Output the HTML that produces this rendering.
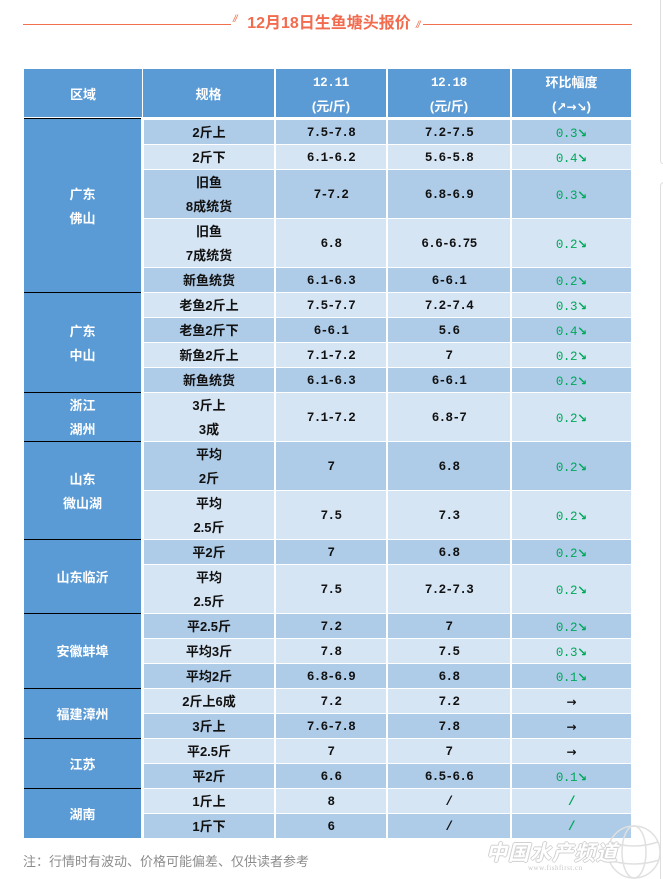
<!DOCTYPE html>
<html><head><meta charset="utf-8">
<style>
*{margin:0;padding:0;box-sizing:border-box}
html,body{width:663px;height:879px;background:#fff;overflow:hidden}
body{position:relative;font-family:"Liberation Sans","Noto Sans CJK SC",sans-serif}
.abs{position:absolute}
.tl{position:absolute;height:1.5px;background:#f07050;top:23.5px}
.title{position:absolute;left:240px;width:178px;top:13px;height:22px;line-height:22px;text-align:center;color:#f26b4e;font-weight:bold;font-size:16px;font-family:"Liberation Sans","Noto Sans CJK SC",sans-serif;white-space:nowrap}
.sl{position:absolute;color:#f07050;font-size:10px;font-style:italic;font-family:"Liberation Sans",sans-serif;letter-spacing:-1px}
.h{position:absolute;top:69px;height:48px;background:#5b9bd5;color:#fff;font-weight:bold;font-size:13px;display:flex;align-items:center;justify-content:center;text-align:center;line-height:24px;padding-top:3px}
.hm{font-family:"Liberation Mono","Noto Sans CJK SC",monospace;font-size:12.5px;letter-spacing:-0.3px}
.reg{position:absolute;left:24px;width:117px;top:119px;height:719px;background:#5b9bd5}
.bl{position:absolute;left:24px;width:117px;height:1px;background:#000}
.g{position:absolute;left:24px;width:117px;color:#fff;font-weight:bold;font-size:13px;display:flex;align-items:center;justify-content:center;text-align:center;line-height:24px;padding-top:2px}
.r{position:absolute;left:0;width:663px}
.r>div{position:absolute;top:0;height:100%;display:flex;align-items:center;justify-content:center;text-align:center;line-height:24px;padding-top:2px;color:#111;white-space:nowrap}
.a{left:144px;width:130px;font-weight:bold;font-size:13px;font-family:"Liberation Sans","Noto Sans CJK SC",sans-serif}
.b{left:276px;width:110px}
.c{left:388px;width:122px}
.b,.c{font-weight:bold;font-size:12.5px;letter-spacing:-0.6px;font-family:"Liberation Mono","DejaVu Sans Mono",monospace}
.e{left:512px;width:119px;font-size:12.5px;letter-spacing:-0.4px;font-family:"Liberation Mono","DejaVu Sans",monospace}
.e .gr{color:#00a85a}
.e .ar{font-family:"DejaVu Sans",sans-serif;font-size:12px;font-weight:bold;letter-spacing:0}
.D>div{background:#aecbe8}
.L>div{background:#d6e5f4}
.foot{position:absolute;left:23px;top:852px;font-size:13px;color:#8c8c8c;line-height:20px;font-family:"Liberation Sans","Noto Sans CJK SC",sans-serif;white-space:nowrap}
.wm{position:absolute;left:486px;top:840px;font-size:21px;font-style:italic;font-weight:bold;color:#fff;letter-spacing:1px;font-family:"Noto Sans CJK SC",sans-serif;text-shadow:1px 0 #d0d0d0,-1px 0 #d0d0d0,0 1px #d0d0d0,0 -1px #d0d0d0;white-space:nowrap;line-height:24px}
.wu{position:absolute;left:528px;top:864px;font-size:7px;color:#c8c8c8;font-family:"Liberation Serif",serif;letter-spacing:0.5px}
</style></head><body>

<div class="abs" style="left:660px;top:-6px;width:10px;height:170px;border:1px solid #dedede;border-radius:3px"></div>
<div class="abs" style="left:660px;top:182px;width:10px;height:710px;border:1px solid #dedede;border-radius:4px"></div>

<div class="tl" style="left:23px;width:208px"></div>
<div class="tl" style="left:423px;width:209px"></div>
<div class="sl" style="left:233px;top:14px">//</div>
<div class="sl" style="left:416px;top:20px">//</div>
<div class="title">12月18日生鱼塘头报价</div>

<div class="h" style="left:24px;width:118px">区域</div>
<div class="h" style="left:143px;width:131px">规格</div>
<div class="h" style="left:276px;width:110px"><div><span class="hm">12.11</span><br>(元/斤)</div></div>
<div class="h" style="left:388px;width:122px"><div><span class="hm">12.18</span><br>(元/斤)</div></div>
<div class="h" style="left:512px;width:119px"><div>环比幅度<br>(<span style="font-family:'DejaVu Sans',sans-serif;font-size:12px">↗→↘</span>)</div></div>

<div class="reg"></div>
<div class="bl" style="top:118px"></div>
<div class="bl" style="top:292px"></div>
<div class="bl" style="top:392px"></div>
<div class="bl" style="top:441px"></div>
<div class="bl" style="top:539px"></div>
<div class="bl" style="top:613px"></div>
<div class="bl" style="top:688px"></div>
<div class="bl" style="top:738px"></div>
<div class="bl" style="top:788px"></div>

<div class="g" style="top:119px;height:173px">广东<br>佛山</div>
<div class="g" style="top:293px;height:99px">广东<br>中山</div>
<div class="g" style="top:393px;height:48px">浙江<br>湖州</div>
<div class="g" style="top:442px;height:97px">山东<br>微山湖</div>
<div class="g" style="top:540px;height:73px">山东临沂</div>
<div class="g" style="top:614px;height:74px">安徽蚌埠</div>
<div class="g" style="top:689px;height:49px">福建漳州</div>
<div class="g" style="top:739px;height:49px">江苏</div>
<div class="g" style="top:789px;height:49px">湖南</div>

<div class="r D" style="top:120px;height:24px"><div class="a">2斤上</div><div class="b">7.5-7.8</div><div class="c">7.2-7.5</div><div class="e"><span class="gr">0.3<span class="ar">↘</span></span></div></div>
<div class="r L" style="top:145px;height:24px"><div class="a">2斤下</div><div class="b">6.1-6.2</div><div class="c">5.6-5.8</div><div class="e"><span class="gr">0.4<span class="ar">↘</span></span></div></div>
<div class="r D" style="top:170px;height:48px"><div class="a">旧鱼<br>8成统货</div><div class="b">7-7.2</div><div class="c">6.8-6.9</div><div class="e"><span class="gr">0.3<span class="ar">↘</span></span></div></div>
<div class="r L" style="top:219px;height:48px"><div class="a">旧鱼<br>7成统货</div><div class="b">6.8</div><div class="c">6.6-6.75</div><div class="e"><span class="gr">0.2<span class="ar">↘</span></span></div></div>
<div class="r D" style="top:268px;height:24px"><div class="a">新鱼统货</div><div class="b">6.1-6.3</div><div class="c">6-6.1</div><div class="e"><span class="gr">0.2<span class="ar">↘</span></span></div></div>
<div class="r L" style="top:293px;height:24px"><div class="a">老鱼2斤上</div><div class="b">7.5-7.7</div><div class="c">7.2-7.4</div><div class="e"><span class="gr">0.3<span class="ar">↘</span></span></div></div>
<div class="r D" style="top:318px;height:24px"><div class="a">老鱼2斤下</div><div class="b">6-6.1</div><div class="c">5.6</div><div class="e"><span class="gr">0.4<span class="ar">↘</span></span></div></div>
<div class="r L" style="top:343px;height:24px"><div class="a">新鱼2斤上</div><div class="b">7.1-7.2</div><div class="c">7</div><div class="e"><span class="gr">0.2<span class="ar">↘</span></span></div></div>
<div class="r D" style="top:368px;height:24px"><div class="a">新鱼统货</div><div class="b">6.1-6.3</div><div class="c">6-6.1</div><div class="e"><span class="gr">0.2<span class="ar">↘</span></span></div></div>
<div class="r L" style="top:393px;height:48px"><div class="a">3斤上<br>3成</div><div class="b">7.1-7.2</div><div class="c">6.8-7</div><div class="e"><span class="gr">0.2<span class="ar">↘</span></span></div></div>
<div class="r D" style="top:442px;height:48px"><div class="a">平均<br>2斤</div><div class="b">7</div><div class="c">6.8</div><div class="e"><span class="gr">0.2<span class="ar">↘</span></span></div></div>
<div class="r L" style="top:491px;height:48px"><div class="a">平均<br>2.5斤</div><div class="b">7.5</div><div class="c">7.3</div><div class="e"><span class="gr">0.2<span class="ar">↘</span></span></div></div>
<div class="r D" style="top:540px;height:24px"><div class="a">平2斤</div><div class="b">7</div><div class="c">6.8</div><div class="e"><span class="gr">0.2<span class="ar">↘</span></span></div></div>
<div class="r L" style="top:565px;height:48px"><div class="a">平均<br>2.5斤</div><div class="b">7.5</div><div class="c">7.2-7.3</div><div class="e"><span class="gr">0.2<span class="ar">↘</span></span></div></div>
<div class="r D" style="top:614px;height:24px"><div class="a">平2.5斤</div><div class="b">7.2</div><div class="c">7</div><div class="e"><span class="gr">0.2<span class="ar">↘</span></span></div></div>
<div class="r L" style="top:639px;height:24px"><div class="a">平均3斤</div><div class="b">7.8</div><div class="c">7.5</div><div class="e"><span class="gr">0.3<span class="ar">↘</span></span></div></div>
<div class="r D" style="top:664px;height:24px"><div class="a">平均2斤</div><div class="b">6.8-6.9</div><div class="c">6.8</div><div class="e"><span class="gr">0.1<span class="ar">↘</span></span></div></div>
<div class="r L" style="top:689px;height:24px"><div class="a">2斤上6成</div><div class="b">7.2</div><div class="c">7.2</div><div class="e"><span class="ar" style="color:#111">→</span></div></div>
<div class="r D" style="top:714px;height:24px"><div class="a">3斤上</div><div class="b">7.6-7.8</div><div class="c">7.8</div><div class="e"><span class="ar" style="color:#111">→</span></div></div>
<div class="r L" style="top:739px;height:24px"><div class="a">平2.5斤</div><div class="b">7</div><div class="c">7</div><div class="e"><span class="ar" style="color:#111">→</span></div></div>
<div class="r D" style="top:764px;height:24px"><div class="a">平2斤</div><div class="b">6.6</div><div class="c">6.5-6.6</div><div class="e"><span class="gr">0.1<span class="ar">↘</span></span></div></div>
<div class="r L" style="top:789px;height:24px"><div class="a">1斤上</div><div class="b">8</div><div class="c">/</div><div class="e"><span class="gr" style="font-weight:bold">/</span></div></div>
<div class="r D" style="top:814px;height:24px"><div class="a">1斤下</div><div class="b">6</div><div class="c">/</div><div class="e"><span class="gr" style="font-weight:bold">/</span></div></div>

<svg class="abs" style="left:600px;top:820px" width="63" height="59" viewBox="0 0 63 59">
  <g fill="none" stroke="#e0e0e0" stroke-width="1.5">
    <circle cx="34" cy="32" r="26"/>
    <ellipse cx="34" cy="32" rx="12" ry="26"/>
    <path d="M10 22 Q34 30 58 22"/>
    <path d="M9 40 Q34 48 59 40"/>
  </g>
</svg>
<div class="wm">中国水产频道</div>
<div class="wu">www.fishfirst.cn</div>

<div class="foot">注：行情时有波动、价格可能偏差、仅供读者参考</div>
</body></html>
